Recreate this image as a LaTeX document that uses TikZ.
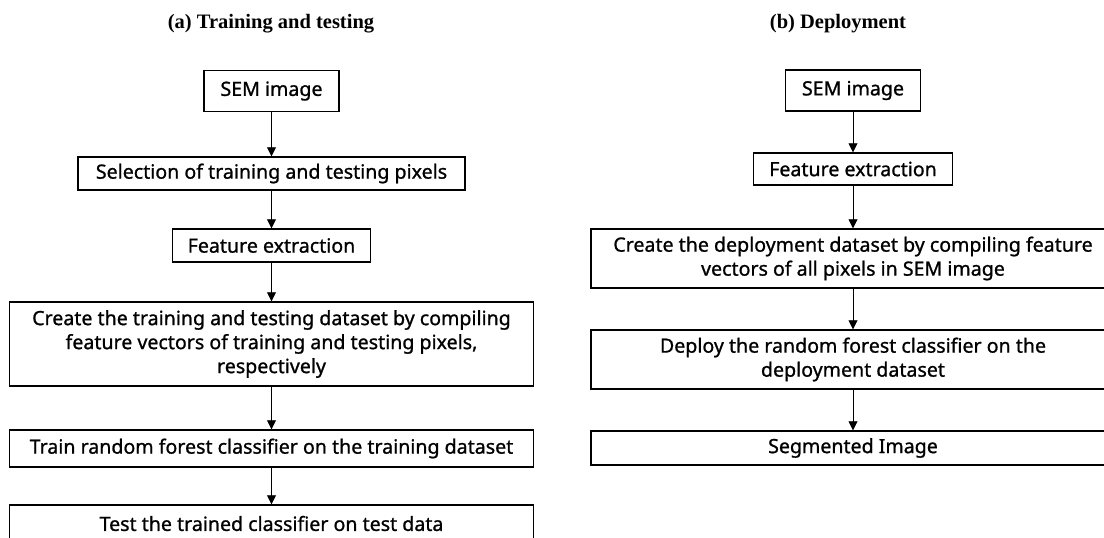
\documentclass[tikz,border=0pt]{standalone}
\usepackage{fontspec}
\setmainfont{Noto Sans}
\newfontfamily\boxfont{Noto Sans}[FakeBold=1.0]
\newfontfamily\headfont{Liberation Serif}
\usetikzlibrary{arrows.meta}
\begin{document}
\begin{tikzpicture}[x=1pt,y=-1pt,
  box/.style={draw, line width=1.4pt, align=center, inner sep=0pt,
    font=\boxfont\fontsize{19.6}{24}\selectfont},
  flow/.style={-{Triangle[length=9pt,width=9pt]}, line width=0.8pt},
  heading/.style={font=\headfont\bfseries\fontsize{20.5}{24}\selectfont, anchor=base}]
\useasboundingbox (0,0) rectangle (1104,538);
\clip (0,0) rectangle (1104,538);

% headings
\node[heading] (ha) at (271,28) {(a) Training and testing};
\node[heading] (hb) at (838,28) {(b) Deployment};

% (a) training and testing
\node[box, minimum width=135pt, minimum height=41pt] (lsem)   at (271.5,91)    {SEM image};
\node[box, minimum width=387pt, minimum height=33pt] (lsel)   at (271.5,173.5) {Selection of training and testing pixels};
\node[box, minimum width=198pt, minimum height=33pt] (lfeat)  at (271.5,245.5) {Feature extraction};
\node[box, minimum width=524pt, minimum height=84pt] (lcreate) at (271.5,344)  {Create the training and testing dataset by compiling\\feature vectors of training and testing pixels,\\respectively};
\node[box, minimum width=524pt, minimum height=37pt] (ltrain) at (271.5,448.5) {Train random forest classifier on the training dataset};
\node[box, minimum width=524pt, minimum height=37pt] (ltest)  at (271.5,523.5) {Test the trained classifier on test data};

\draw[flow] (lsem) -- (lsel);
\draw[flow] (lsel) -- (lfeat);
\draw[flow] (lfeat) -- (lcreate);
\draw[flow] (lcreate) -- (ltrain);
\draw[flow] (ltrain) -- (ltest);

% (b) deployment
\node[box, minimum width=135pt, minimum height=41pt] (rsem)    at (853,90.5)  {SEM image};
\node[box, minimum width=199pt, minimum height=32pt] (rfeat)   at (853,169)   {Feature extraction};
\node[box, minimum width=524pt, minimum height=59pt] (rcreate) at (853,258.5) {Create the deployment dataset by compiling feature\\vectors of all pixels in SEM image};
\node[box, minimum width=524pt, minimum height=59pt] (rdeploy) at (853,359.5) {Deploy the random forest classifier on the\\deployment dataset};
\node[box, minimum width=524pt, minimum height=34pt] (rseg)    at (853,448)   {Segmented Image};

\draw[flow] (rsem) -- (rfeat);
\draw[flow] (rfeat) -- (rcreate);
\draw[flow] (rcreate) -- (rdeploy);
\draw[flow] (rdeploy) -- (rseg);
\end{tikzpicture}
\end{document}
